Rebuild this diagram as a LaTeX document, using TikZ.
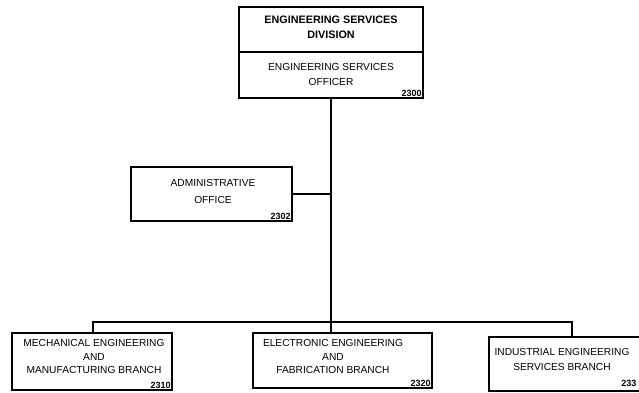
\documentclass[tikz,border=0pt]{standalone}
\usepackage{fontspec}
\setmainfont{Liberation Sans}
\begin{document}
\begin{tikzpicture}[x=1pt,y=-1pt,
  box/.style={draw,line width=1.6pt,rectangle,inner sep=0pt},
  txt/.style={align=center,inner sep=0pt,font=\fontsize{10}{14}\selectfont},
  num/.style={font=\bfseries\fontsize{9}{10}\selectfont,anchor=south east,inner xsep=2pt,inner ysep=2.5pt},
  wire/.style={line width=1.6pt}]
\useasboundingbox (0,0) rectangle (639,392);
\clip (0,0) rectangle (639,392);
% top boxes
\node[box,minimum width=184pt,minimum height=45pt] (div) at (331,29.5) {};
\node[txt,font=\bfseries\fontsize{10.8}{15}\selectfont] (divT) at (331,27.5) {ENGINEERING SERVICES\\DIVISION};
\node[box,minimum width=184pt,minimum height=46pt] (off) at (331,75) {};
\node[txt,font=\fontsize{10.2}{15}\selectfont] (offT) at (331,74) {ENGINEERING SERVICES\\OFFICER};
\node[num] (n2300) at (off.south east) {2300};
% admin
\node[box,minimum width=161pt,minimum height=54pt] (adm) at (211.5,194) {};
\node[txt,font=\fontsize{10.2}{17}\selectfont] (admT) at (213,191.5) {ADMINISTRATIVE\\OFFICE};
\node[num] (n2302) at (adm.south east) {2302};
% branches
\node[box,minimum width=160pt,minimum height=57pt] (mech) at (92,361.5) {};
\node[txt,font=\fontsize{10.2}{13.5}\selectfont] (mechT) at (94,356.5) {MECHANICAL ENGINEERING\\AND\\MANUFACTURING BRANCH};
\node[num] (n2310) at (mech.south east) {2310};
\node[box,minimum width=179pt,minimum height=55pt] (elec) at (342.5,360.5) {};
\node[txt,font=\fontsize{10.2}{13.5}\selectfont] (elecT) at (333,356.5) {ELECTRONIC ENGINEERING\\AND\\FABRICATION BRANCH};
\node[num] (n2320) at (elec.south east) {2320};
\node[box,minimum width=160pt,minimum height=54pt] (ind) at (569,364) {};
\node[txt,font=\fontsize{10.2}{15}\selectfont] (indT) at (562,359.5) {INDUSTRIAL ENGINEERING\\SERVICES BRANCH};
\node[num,anchor=east] (n2330) at (638.5,383) {233};
% connectors
\coordinate (busL) at (93,322);
\coordinate (busR) at (572,322);
\draw[wire] (off.south) -- (off.south |- elec.north);
\draw[wire] (adm.east) -- (adm.east -| off.south);
\draw[wire] (busL |- mech.north) -- (busL) -- (busR) -- (busR |- ind.north);
\end{tikzpicture}
\end{document}
